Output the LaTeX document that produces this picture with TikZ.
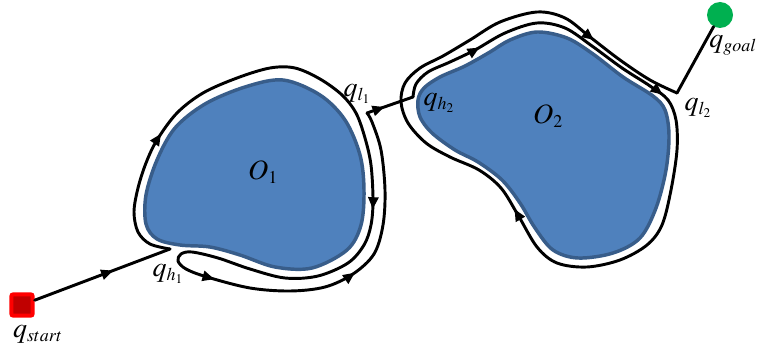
\documentclass[tikz,border=0pt]{standalone}
\usepackage{mathptmx}
\DeclareMathSizes{21}{21}{13.5}{10}
\usetikzlibrary{arrows.meta,decorations.markings}
\definecolor{obfill}{HTML}{4F81BD}
\definecolor{obline}{HTML}{385D8A}
\definecolor{sqfill}{HTML}{C00000}
\definecolor{sqline}{HTML}{FF0000}
\definecolor{goalc}{HTML}{00B050}
\tikzset{
  >={Triangle[length=9pt,width=7.5pt]},
  route/.style={draw=black, line width=2.2pt, line join=round, line cap=round},
  obst/.style={fill=obfill, draw=obline, line width=2.6pt},
  lab/.style={font=\fontsize{21}{24}\selectfont, inner sep=0pt},
  startsq/.style={rectangle, fill=sqfill, draw=sqline, line width=3pt, minimum size=16pt, rounded corners=1.5pt, inner sep=0pt},
  goaldot/.style={circle, fill=goalc, minimum size=19.5pt, inner sep=0pt},
  arrowat/.style={postaction={decorate}, decoration={markings, mark=at position #1 with {\arrow{>}}}},
}
\begin{document}
\begin{tikzpicture}[x=0.75pt,y=-0.75pt]
\useasboundingbox[fill=white] (0,0) rectangle (757,356);

% obstacles
\path[obst] plot[smooth cycle, tension=0.55] coordinates {
  (283,80) (320,95) (345,120) (360,155) (364,190) (361,225) (347,250) (312,268)
  (275,267) (240,255) (210,247) (180,245) (157,239) (146,224) (146,195)
  (157,160) (175,128) (205,104) (245,87)};
\path[obst] plot[smooth cycle, tension=0.55] coordinates {
  (418,100) (424,88) (440,77) (465,66) (490,52) (510,40) (537,32) (567,38)
  (593,54) (623,77) (653,96) (665,110) (669,135) (666,170) (656,208) (640,238)
  (613,253) (578,258) (553,250) (535,228) (520,203) (502,180) (478,162)
  (455,150) (432,133) (420,117)};

% key points
\node[startsq] (qstart) at (22,305) {};
\node[goaldot] (qgoal) at (720,15) {};
\coordinate (qh1) at (170,249);
\coordinate (ql1) at (367,113);
\coordinate (qh2) at (413,97);
\coordinate (ql2) at (677,93);

% connectors
\draw[route, arrowat=0.58] (qstart) -- (qh1);
\draw[route, arrowat=0.38] (ql1) -- (qh2);
\draw[route] (ql2) -- (qgoal);

% boundary following around O1
\draw[route, postaction={decorate}, decoration={markings,
    mark=at position 0.132 with {\arrow{>}},
    mark=at position 0.44 with {\arrow{>}},
    mark=at position 0.705 with {\arrow{>}},
    mark=at position 0.84 with {\arrow{>}}}]
  plot[smooth, tension=0.55] coordinates {
  (170,249) (150,244) (138,232) (134,212) (138,188) (146,163) (157,140)
  (177,113) (203,93) (237,78) (270,68) (295,68) (320,79) (342,95) (356,113)
  (365,138) (371,165) (373,200) (371,225) (364,245) (348,263) (318,276)
  (285,278) (250,269) (218,258) (192,252) (181,254) (178,261) (186,269)
  (207,277) (250,288) (290,291) (325,287) (353,274) (374,254) (383,225)
  (385,190) (381,150) (372,122) (367,113)};

% boundary following around O2
\draw[route, postaction={decorate}, decoration={markings,
    mark=at position 0.078 with {\arrow{>}},
    mark=at position 0.265 with {\arrow{>}},
    mark=at position 0.556 with {\arrow{>}},
    mark=at position 0.912 with {\arrow{>}}}]
  plot[smooth, tension=0.55] coordinates {
  (413,97) (416,84) (428,72) (450,62) (475,50) (505,33) (537,23) (565,28)
  (592,46) (622,68) (650,86) (668,100) (676,120) (677,150) (671,190)
  (662,225) (647,245) (620,260) (587,267) (557,263) (537,247) (518,215)
  (501,188) (479,170) (450,157) (426,143) (408,123) (401,102) (405,83)
  (420,68) (443,56) (470,40) (500,22) (537,12) (565,18) (590,37) (620,60)
  (650,80) (677,93)};

% labels
\node[lab] (lstart) at (38,334) {$q_{start}$};
\node[lab] (lh1) at (168,274) {$q_{h_1}$};
\node[lab] (ll1) at (357,94) {$q_{l_1}$};
\node[lab] (lh2) at (439,103) {$q_{h_2}$};
\node[lab] (ll2) at (698,108) {$q_{l_2}$};
\node[lab, anchor=west] (lgoal) at (709,45) {$q_{goal}$};
\node[lab] (lo1) at (263,172) {$O_1$};
\node[lab] (lo2) at (548,116) {$O_2$};
\end{tikzpicture}
\end{document}
